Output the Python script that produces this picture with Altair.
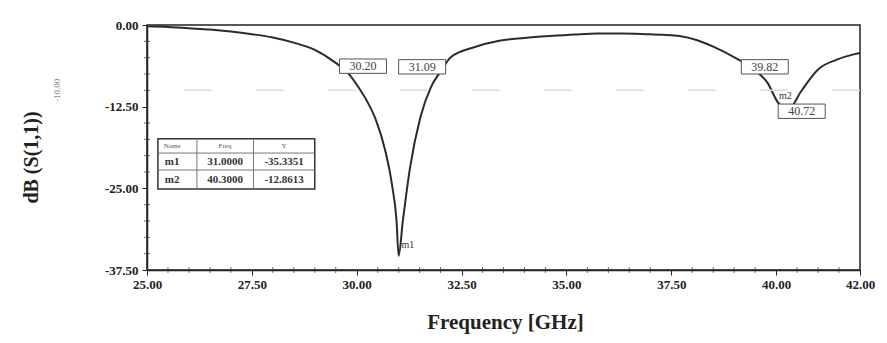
import altair as alt
import pandas as pd

# ---- data ----
freq = [25.0, 25.5, 26.0, 26.5, 27.0, 27.5, 28.0, 28.5, 29.0, 29.5, 29.8, 30.05, 30.25,
        30.45, 30.68, 30.84, 30.95, 31.0, 31.1, 31.27, 31.52, 31.77, 32.0, 32.25, 32.8,
        33.4, 34.0, 34.6, 35.2, 35.75, 36.3, 36.9, 37.3, 37.7, 38.1, 38.5, 39.05, 39.4,
        39.8, 40.05, 40.3, 40.6, 41.0, 41.45, 41.85, 42.0]
s11 = [-0.2, -0.3, -0.5, -0.7, -1.0, -1.4, -1.9, -2.7, -3.8, -5.8, -7.4, -9.6, -11.7,
       -14.4, -19.2, -24.4, -30.0, -35.34, -30.0, -21.9, -14.1, -9.5, -7.1, -4.9, -3.4,
       -2.4, -2.0, -1.7, -1.45, -1.3, -1.3, -1.4, -1.5, -1.7, -2.3, -3.3, -5.1, -6.5,
       -8.9, -11.9, -12.86, -10.1, -6.8, -5.3, -4.5, -4.3]

x_ticks = [25, 27.5, 30, 32.5, 35, 37.5, 40, 42]
y_ticks = [0, -12.5, -25, -37.5]
x_minor = [25.5, 26, 26.5, 27, 28, 28.5, 29, 29.5, 30.5, 31, 31.5, 32, 33, 33.5, 34,
           34.5, 35.5, 36, 36.5, 37, 38, 38.5, 39, 39.5, 40.5, 41, 41.5]
y_minor = [-2.5, -5, -7.5, -10, -15, -17.5, -20, -22.5, -27.5, -30, -32.5, -35]

label_text = ["30.20", "31.09", "39.82", "40.72"]
label_f = [30.15, 31.56, 39.73, 40.61]
label_db = [-6.3, -6.4, -6.4, -13.2]

marker_names = ["m1", "m2"]
marker_f = [31.22, 40.22]
marker_db = [-33.6, -10.9]

table_header = ["Name", "Freq", "Y"]
table_names = ["m1", "m2"]
table_freq = ["31.0000", "40.3000"]
table_y = ["-35.3351", "-12.8613"]
ref_level = [-10.0]
ref_text = ["-10.00"]

F_MIN, F_MAX, DB_MIN, DB_MAX = 25.0, 42.0, -37.5, 0.0

SERIF = "Liberation Serif"
xs = alt.Scale(domain=[F_MIN, F_MAX], nice=False, zero=False)
ys = alt.Scale(domain=[DB_MIN, DB_MAX], nice=False, zero=False)
fmt = "replace(format(datum.value, '.2f'), '\u2212', '-')"

AX = alt.Axis(
    values=x_ticks, labelExpr=fmt, title="Frequency [GHz]", grid=False, labelFlush=False,
    labelFont=SERIF, labelFontSize=13, labelFontWeight="bold", labelColor="#222",
    tickSize=5, tickColor="#222", labelPadding=3, domainColor="#222", domainWidth=1.5,
    titleFont=SERIF, titleFontSize=21, titleFontWeight="bold", titleColor="#222",
    titleX=358, titleY=52, titleBaseline="middle", titleAlign="center")
AY = alt.Axis(
    values=y_ticks, labelExpr=fmt, title="dB (S(1,1))", grid=False, labelFlush=False,
    labelFont=SERIF, labelFontSize=13, labelFontWeight="bold", labelColor="#222",
    tickSize=5, tickColor="#222", labelPadding=4, domainColor="#222", domainWidth=1.5,
    titleFont=SERIF, titleFontSize=20, titleFontWeight="bold", titleColor="#222",
    titleX=-116, titleY=132, titleAngle=270, titleAlign="center", titleBaseline="middle")


def X(field):
    return alt.X(field, type="quantitative", scale=xs, axis=AX)


def Y(field):
    return alt.Y(field, type="quantitative", scale=ys, axis=AY)


curve_df = pd.DataFrame({"f": freq, "db": s11})
line = alt.Chart(curve_df).mark_line(color="#2b2b2b", strokeWidth=2, interpolate="monotone").encode(
    x=X("f"), y=Y("db"))

ref_df = pd.DataFrame({"db": ref_level, "t": ref_text, "f": [F_MIN]})
ref_rule = alt.Chart(ref_df).mark_rule(
    color="#dcdcdc", strokeWidth=1.5, strokeDash=[28, 44]).encode(y=Y("db"))
ref_lab = alt.Chart(ref_df).mark_text(
    font=SERIF, fontSize=9, color="#8a8a8a", angle=270, dy=-90).encode(
    x=X("f"), y=Y("db"), text="t:N")

mx_df = pd.DataFrame({"f": x_minor, "db": [DB_MIN] * len(x_minor)})
minor_x = alt.Chart(mx_df).mark_tick(
    orient="vertical", size=6, thickness=1, color="#333").encode(x=X("f"), y=Y("db"))

my_df = pd.DataFrame({"db": y_minor, "f": [F_MIN] * len(y_minor)})
minor_y = alt.Chart(my_df).mark_tick(
    orient="horizontal", size=6, thickness=1, color="#333").encode(y=Y("db"), x=X("f"))

lab_df = pd.DataFrame({"t": label_text, "f": label_f, "db": label_db})
lab_df["f1"] = lab_df["f"] - 0.56
lab_df["f2"] = lab_df["f"] + 0.56
lab_df["d1"] = lab_df["db"] - 1.1
lab_df["d2"] = lab_df["db"] + 1.1

lab_box = alt.Chart(lab_df).mark_rect(fill="white", stroke="#555", strokeWidth=1).encode(
    x=X("f1"), x2="f2:Q", y=Y("d1"), y2="d2:Q")
lab_txt = alt.Chart(lab_df).mark_text(font=SERIF, fontSize=12, color="#444").encode(
    x=X("f"), y=Y("db"), text="t:N")

mk_txt = alt.Chart(pd.DataFrame({"t": marker_names, "f": marker_f, "db": marker_db})).mark_text(
    font=SERIF, fontSize=10, color="#333").encode(x=X("f"), y=Y("db"), text="t:N")

# marker table
T_F1, T_F2, T_D1, T_D2 = 25.26, 29.0, -25.1, -17.4
tab_box = alt.Chart(pd.DataFrame({"f1": [T_F1], "f2": [T_F2], "d1": [T_D1], "d2": [T_D2]})).mark_rect(
    fill="white", stroke="#333", strokeWidth=1.5).encode(
    x=X("f1"), x2="f2:Q", y=Y("d1"), y2="d2:Q")
tab_h = alt.Chart(pd.DataFrame({"db": [-19.6, -22.2], "f1": [T_F1] * 2, "f2": [T_F2] * 2})).mark_rule(
    color="#777", strokeWidth=1).encode(y=Y("db"), x=X("f1"), x2="f2:Q")
tab_v = alt.Chart(pd.DataFrame({"f": [26.19, 27.54], "d1": [T_D1] * 2, "d2": [T_D2] * 2})).mark_rule(
    color="#777", strokeWidth=1).encode(x=X("f"), y=Y("d1"), y2="d2:Q")

col_f = [25.6, 26.86, 28.27]
hdr = alt.Chart(pd.DataFrame({"t": table_header, "f": col_f, "db": [-18.5] * 3})).mark_text(
    font=SERIF, fontSize=7, color="#555").encode(x=X("f"), y=Y("db"), text="t:N")

rows = []
for i, (n, fr, yv) in enumerate(zip(table_names, table_freq, table_y)):
    d = [-20.9, -23.65][i]
    rows += [(n, col_f[0], d), (fr, col_f[1], d), (yv, col_f[2], d)]
row_df = pd.DataFrame(rows, columns=["t", "f", "db"])
row_txt = alt.Chart(row_df).mark_text(font=SERIF, fontSize=11, fontWeight="bold", color="#333").encode(
    x=X("f"), y=Y("db"), text="t:N")

chart = alt.layer(
    line, ref_rule, ref_lab, minor_x, minor_y, lab_box, lab_txt, mk_txt,
    tab_box, tab_h, tab_v, hdr, row_txt
).properties(
    width=713, height=245,
    padding={"left": 147, "top": 25, "right": 27, "bottom": 73},
    autosize=alt.AutoSizeParams(type="none"),
    background="white",
).configure_view(stroke="#222", strokeWidth=1.5)

chart.save("out.html", embed_options={"renderer": "svg", "actions": False})
